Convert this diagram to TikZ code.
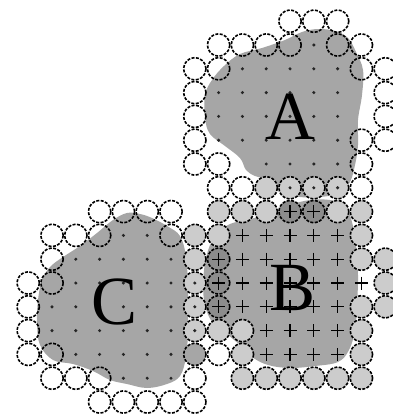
\documentclass[tikz,border=0pt]{standalone}
\usepackage{fontspec}
\setmainfont{Liberation Serif}
\definecolor{blobgray}{gray}{0.65}
\definecolor{lightfill}{gray}{0.80}
\definecolor{darkfill}{gray}{0.55}
\tikzset{
  ring/.style={draw=black, line width=1.6pt, dash pattern=on 3pt off 1.45pt},
  blob/.style={fill=blobgray, draw=none},
  plusline/.style={draw=black, line width=1.1pt},
  lbl/.style={font=\fontsize{69}{69}\selectfont, inner sep=0pt},
}
\begin{document}
\begin{tikzpicture}[x=1pt,y=-1pt]
\path[use as bounding box, fill=white] (0,0) rectangle (392,415);
% blobs
\fill[blob] plot[smooth cycle, tension=0.6] coordinates {
 (318,29) (335,31) (348,38) (356,52) (363,70) (362,95) (358,120) (358,145)
 (355,165) (350,182) (340,193) (320,197) (300,197) (282,192) (268,180)
 (255,176) (246,170) (240,158) (225,146) (210,134) (205,118) (205,95)
 (212,80) (224,66) (240,54) (262,48) (285,40) (302,32)};
\fill[blob] plot[smooth cycle, tension=0.6] coordinates {
 (230,224) (250,219) (270,214) (290,205) (310,200) (330,200) (345,205)
 (352,222) (356,245) (358,275) (357,305) (355,330) (349,350) (338,362)
 (315,366) (290,368) (268,365) (252,357) (240,345) (228,335) (212,322)
 (204,300) (204,270) (210,245) (220,232)};
\fill[blob] plot[smooth cycle, tension=0.6] coordinates {
 (127,213) (140,214) (152,218) (167,226) (180,236) (186,257) (188,290)
 (188,330) (186,357) (180,376) (167,384) (147,388) (127,384) (110,380)
 (93,371) (73,364) (53,360) (40,345) (37,323) (38,300) (42,280) (50,267)
 (63,257) (80,246) (97,233) (113,220)};
% open rings
\foreach \r/\cs in {-1/{10,11,12}, 0/{7,8,9,10,12,13}, 1/{6,7,13,14},
  2/{6,14}, 3/{6,14}, 4/{6,13,14}, 5/{6,7,13}, 6/{7,8,13}, 7/{2,3,4,5},
  8/{0,1,2,5}, 9/{0}, 10/{-1,0}, 11/{-1}, 12/{-1}, 13/{-1,0,7},
  14/{0,1,2,6}, 15/{2,3,4,5,6}}{
  \foreach \c in \cs {
    \draw[ring] ({52+23.8*\c},{45+23.8*\r}) circle (11.2pt);
  }
}
% light rings
\foreach \r/\cs in {6/{9,10,11,12}, 7/{7,8,9,12,13}, 8/{6,7,13},
  9/{6,13,14}, 10/{6,14}, 11/{6,13,14}, 12/{6,7,8,13}, 13/{8,13},
  14/{8,9,10,11,12,13}}{
  \foreach \c in \cs {
    \draw[ring, fill=lightfill] ({52+23.8*\c},{45+23.8*\r}) circle (11.2pt);
  }
}
% dark rings
\foreach \r/\cs in {7/{10,11}, 9/{7}, 10/{7}, 11/{7}}{
  \foreach \c in \cs {
    \draw[ring, fill=darkfill] ({52+23.8*\c},{45+23.8*\r}) circle (11.2pt);
  }
}
\draw[ring, fill=blobgray] ({52+23.8*6},{45+23.8*13}) circle (11.2pt);
% dots of A and C
\foreach \r/\cs in {0/{11}, 1/{8,9,10,11,12}, 2/{7,8,9,10,11,12},
  3/{7,8,9,10,11,12}, 4/{7,8,9,10,11,12}, 5/{9,10,11,12}, 6/{10,11,12},
  8/{3,4}, 9/{1,2,3,4,5}, 10/{1,2,3,4,5,6}, 11/{0,1,2,3,4,5,6},
  12/{0,1,2,3,4,5,6}, 13/{1,2,3,4,5}, 14/{3,4,5}}{
  \foreach \c in \cs {
    \fill[black!85] ({52+23.8*\c},{45+23.8*\r}) circle (1.7pt);
  }
}
% crosses of B
\foreach \r/\cs in {7/{10,11}, 8/{8,9,10,11,12}, 9/{7,8,9,10,11,12},
  10/{7,8,9,10,11,12,13}, 11/{7,8,9,10,11,12}, 12/{9,10,11,12},
  13/{9,10,11,12}}{
  \foreach \c in \cs {
    \pgfmathsetmacro\px{52+23.8*\c}
    \pgfmathsetmacro\py{45+23.8*\r}
    \draw[plusline] (\px-6.5,\py) -- (\px+6.5,\py) (\px,\py-6.5) -- (\px,\py+6.5);
  }
}
% labels
\node[lbl] (A) at (290,117) {A};
\node[lbl] (B) at (293,288) {B};
\node[lbl] (C) at (115,302) {C};
\end{tikzpicture}
\end{document}
